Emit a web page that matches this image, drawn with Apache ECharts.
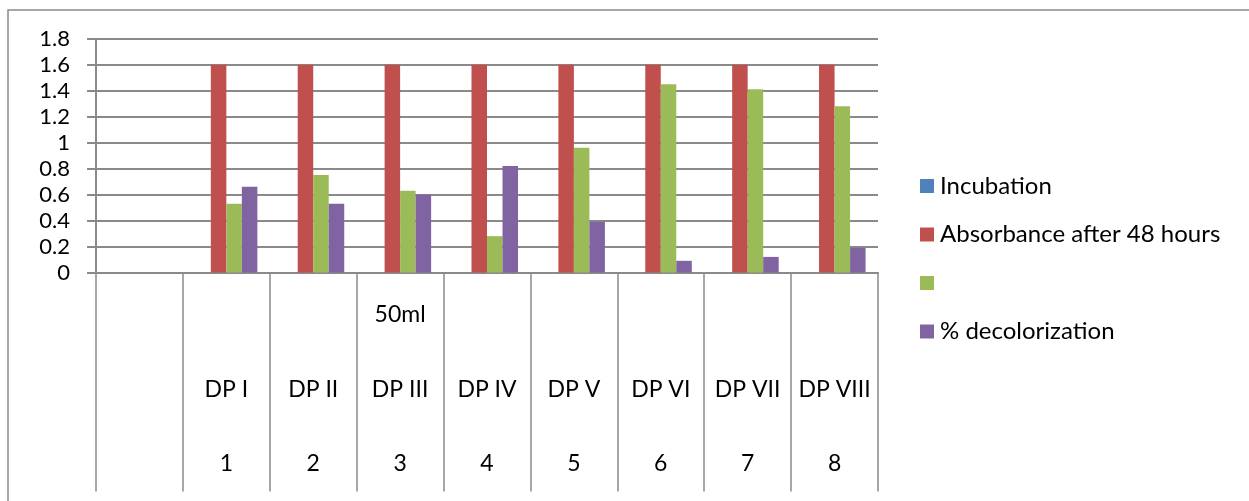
<!DOCTYPE html>
<html>
<head>
<meta charset="utf-8">
<script src="https://cdn.jsdelivr.net/npm/echarts@6/dist/echarts.min.js"></script>
<style>
  html, body { margin: 0; padding: 0; background: #fff; }
  #chart { width: 1249px; height: 501px; }
</style>
</head>
<body>
<div id="chart"></div>
<script>
// Sample groups along the category axis (first slot is left empty)
const samples = ['', 'DP I', 'DP II', 'DP III', 'DP IV', 'DP V', 'DP VI', 'DP VII', 'DP VIII'];
const volumeRow = ['', '', '', '50ml', '', '', '', '', ''];
const numberRow = ['', '1', '2', '3', '4', '5', '6', '7', '8'];

// Series
const seriesNames = ['Incubation', 'Absorbance after 48 hours', ' ', '% decolorization'];
const incubation = [null, 0, 0, 0, 0, 0, 0, 0, 0];
const absorbance48h = [null, 1.6, 1.6, 1.6, 1.6, 1.6, 1.6, 1.6, 1.6];
const absorbanceAfter = [null, 0.53, 0.75, 0.63, 0.28, 0.96, 1.45, 1.41, 1.28];
const decolorization = [null, 0.66, 0.53, 0.60, 0.82, 0.39, 0.09, 0.12, 0.19];
const seriesColors = ['#4F81BD', '#C0504D', '#9BBB59', '#8064A2'];

const FONT = 'Lato, "Open Sans", sans-serif';
const LINE = '#8a8a8a';

const chart = echarts.init(document.getElementById('chart'), null, { renderer: 'canvas' });

const seriesData = [incubation, absorbance48h, absorbanceAfter, decolorization];

chart.setOption({
  animation: false,
  backgroundColor: '#fff',
  textStyle: { fontFamily: FONT, color: '#000' },
  graphic: [{
    type: 'rect',
    shape: { x: 8, y: 10, width: 1400, height: 700 },
    style: { fill: 'none', stroke: LINE, lineWidth: 1.5 },
    silent: true,
    z: -1
  }],
  grid: { left: 96, right: 371, top: 38.7, bottom: 226.3, containLabel: false },
  legend: {
    orient: 'vertical',
    left: 915,
    top: 169,
    padding: 5,
    itemWidth: 14,
    itemHeight: 14,
    itemGap: 24.5,
    icon: 'rect',
    data: seriesNames,
    textStyle: { fontFamily: FONT, fontSize: 24, color: '#000', lineHeight: 24, padding: [0, 0, 0, 1] }
  },
  xAxis: {
    type: 'category',
    data: samples,
    boundaryGap: true,
    axisLine: { show: true, lineStyle: { color: LINE, width: 2 } },
    axisTick: { show: true, interval: 0, length: 219, lineStyle: { color: LINE, width: 1.5 } },
    axisLabel: {
      interval: 0,
      margin: 5,
      lineHeight: 74.5,
      formatter: function (val, idx) {
        const top = volumeRow[idx] || ' ';
        const mid = val || ' ';
        const bot = numberRow[idx] || ' ';
        return '{r|' + top + '}\n{r|' + mid + '}\n{r|' + bot + '}';
      },
      rich: { r: { fontFamily: FONT, fontSize: 23, color: '#000', lineHeight: 74.5, align: 'center' } }
    },
    splitLine: { show: false }
  },
  yAxis: {
    type: 'value',
    min: 0,
    max: 1.8,
    interval: 0.2,
    axisLine: { show: true, lineStyle: { color: LINE, width: 2 } },
    axisTick: { show: true, length: 9, lineStyle: { color: LINE, width: 2 } },
    axisLabel: {
      margin: 26,
      fontFamily: FONT,
      fontSize: 22,
      color: '#000',
      formatter: function (v) { return String(+v.toFixed(1)); }
    },
    splitLine: { show: true, lineStyle: { color: LINE, width: 2 } }
  },
  series: seriesNames.map(function (name, i) {
    return {
      name: name,
      type: 'bar',
      data: seriesData[i],
      barGap: '0%',
      barCategoryGap: '28.6%',
      itemStyle: { color: seriesColors[i] },
      emphasis: { disabled: true }
    };
  })
});
</script>
</body>
</html>
